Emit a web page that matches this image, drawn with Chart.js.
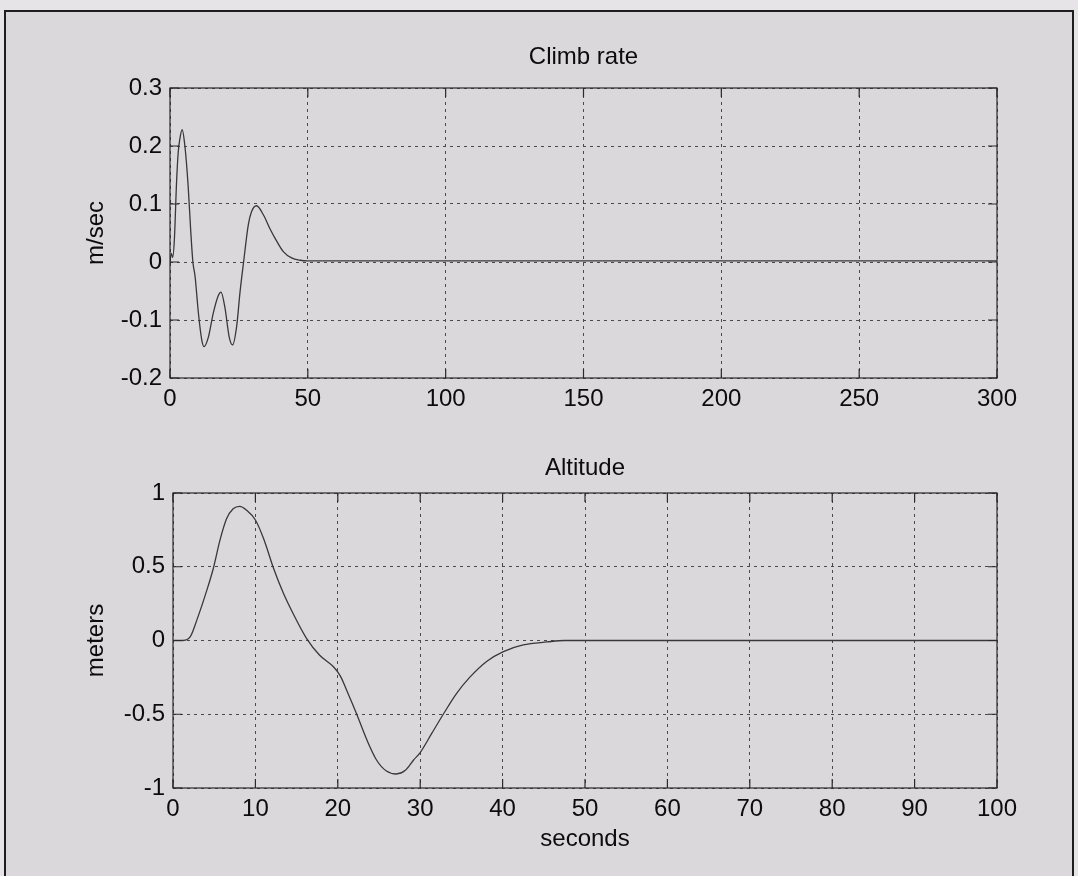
<!DOCTYPE html>
<html>
<head>
<meta charset="utf-8">
<script src="https://cdn.jsdelivr.net/npm/chart.js@4/dist/chart.umd.min.js"></script>
<style>
    body { margin: 0; background: #e6e4e6; width: 1078px; height: 876px; overflow: hidden; position: relative; }
    #frame { position: absolute; left: 4px; top: 10px; width: 1066px; height: 866px; border: 2px solid #1e1e1e; border-bottom: none; background: #dad8db; }
    canvas { position: absolute; left: 0; }
    #climbChart { top: 0; }
    #altChart { top: 430px; }
</style>
</head>
<body>
<div id="frame"></div>
<canvas id="climbChart" width="1078" height="430"></canvas>
<canvas id="altChart" width="1078" height="446"></canvas>
<script>
// Climb rate (m/sec) vs time (s)
const climbTime = [0, 0.5, 1.0, 1.6, 2.4, 3.0, 3.5, 4.4, 5.4, 6.6, 7.5, 8.3, 9.1, 10.3, 11.5, 12.3, 13.9, 15.7, 17.5, 18.5, 19.9, 21.5, 22.7, 24.2, 25.4, 26.7, 28.4, 29.6, 31.4, 33.9, 36.3, 38.7, 41.1, 44.1, 47.2, 50, 100, 150, 200, 250, 300];
const climbRate = [0, 0.015, 0.008, 0.04, 0.14, 0.19, 0.21, 0.228, 0.2, 0.13, 0.055, 0, -0.025, -0.088, -0.134, -0.146, -0.13, -0.088, -0.058, -0.052, -0.078, -0.13, -0.143, -0.11, -0.052, 0, 0.064, 0.087, 0.097, 0.081, 0.057, 0.036, 0.018, 0.007, 0.003, 0.002, 0.002, 0.002, 0.002, 0.002, 0.002];

// Altitude (meters) vs time (s)
const altTime = [0, 1.2, 2.1, 2.9, 4.1, 4.9, 5.7, 6.5, 7.3, 8.1, 8.9, 10.0, 11.0, 12.2, 13.4, 14.6, 16.2, 17.8, 19.5, 20.3, 21.1, 22.3, 23.5, 24.7, 25.9, 27.1, 28.2, 29.2, 30.0, 31.4, 32.8, 34.4, 36.0, 38.1, 40.1, 42.5, 45.4, 47.5, 50, 60, 70, 80, 90, 100];
const altitude = [0, 0, 0.026, 0.14, 0.34, 0.49, 0.68, 0.825, 0.893, 0.91, 0.885, 0.817, 0.69, 0.49, 0.32, 0.18, 0.015, -0.1, -0.18, -0.24, -0.34, -0.5, -0.67, -0.81, -0.885, -0.905, -0.88, -0.81, -0.76, -0.63, -0.5, -0.36, -0.25, -0.14, -0.075, -0.03, -0.01, 0, 0, 0, 0, 0, 0, 0];

// tick values
const climbXTicks = [0, 50, 100, 150, 200, 250, 300];
const climbYTicks = [-0.2, -0.1, 0, 0.1, 0.2, 0.3];
const altXTicks = [0, 10, 20, 30, 40, 50, 60, 70, 80, 90, 100];
const altYTicks = [-1, -0.5, 0, 0.5, 1];

const FONT = 'Liberation Sans, Arial, sans-serif';
const INK = '#0c0c0c';
const LINE = '#383838';
const GRID = '#4a4a4a';

// MATLAB style box with inward ticks
const matlabAxes = {
    id: 'matlabAxes',
    afterDatasetsDraw(chart) {
        const { ctx, chartArea: a, scales: { x, y } } = chart;
        const len = 9;
        ctx.save();
        ctx.strokeStyle = '#2a2a2a';
        ctx.lineWidth = 1.2;
        ctx.setLineDash([]);
        ctx.strokeRect(a.left, a.top, a.right - a.left, a.bottom - a.top);
        ctx.beginPath();
        x.ticks.forEach(t => {
            const px = x.getPixelForValue(t.value);
            ctx.moveTo(px, a.bottom); ctx.lineTo(px, a.bottom - len);
            ctx.moveTo(px, a.top); ctx.lineTo(px, a.top + len);
        });
        y.ticks.forEach(t => {
            const py = y.getPixelForValue(t.value);
            ctx.moveTo(a.left, py); ctx.lineTo(a.left + len, py);
            ctx.moveTo(a.right, py); ctx.lineTo(a.right - len, py);
        });
        ctx.stroke();
        ctx.restore();
    }
};

const fmt = v => String(Math.round(v * 100) / 100);

function makeChart(canvasId, cfg) {
    const points = cfg.xs.map((x, i) => ({ x: x, y: cfg.ys[i] }));
    const xMin = cfg.xTicks[0];
    const xMax = cfg.xTicks[cfg.xTicks.length - 1];
    return new Chart(document.getElementById(canvasId), {
        type: 'line',
        data: {
            datasets: [{
                data: points,
                borderColor: LINE,
                borderWidth: 1.3,
                pointRadius: 0,
                cubicInterpolationMode: 'monotone',
                fill: false
            }]
        },
        options: {
            responsive: false,
            animation: false,
            devicePixelRatio: 1,
            layout: { padding: cfg.padding },
            plugins: {
                legend: { display: false },
                tooltip: { enabled: false }
            },
            scales: {
                x: {
                    type: 'linear',
                    min: xMin,
                    max: xMax,
                    afterBuildTicks: s => { s.ticks = cfg.xTicks.map(v => ({ value: v })); },
                    afterFit: s => { s.height = cfg.xHeight; },
                    grid: { color: GRID, lineWidth: 1, drawTicks: false },
                    border: { display: false, dash: [3, 4] },
                    ticks: { color: INK, padding: 7, maxRotation: 0, callback: fmt, font: { family: FONT, size: 24 } },
                    title: {
                        display: !!cfg.xTitle,
                        text: cfg.xTitle || '',
                        color: INK,
                        font: { family: FONT, size: 24, lineHeight: 1.2 },
                        padding: { top: 0, bottom: 2 }
                    }
                },
                // top axis only carries the plot title, centred over the axes box
                top: {
                    type: 'linear',
                    position: 'top',
                    min: xMin,
                    max: xMax,
                    afterFit: s => { s.height = cfg.topHeight; },
                    grid: { display: false, drawTicks: false },
                    border: { display: false },
                    ticks: { display: false },
                    title: {
                        display: true,
                        text: cfg.title,
                        color: INK,
                        font: { family: FONT, size: 24, lineHeight: 1.2 },
                        padding: { top: cfg.titleTop, bottom: 0 }
                    }
                },
                y: {
                    min: cfg.yTicks[0],
                    max: cfg.yTicks[cfg.yTicks.length - 1],
                    afterBuildTicks: s => { s.ticks = cfg.yTicks.map(v => ({ value: v })); },
                    afterFit: s => { s.width = cfg.yWidth; },
                    grid: { color: GRID, lineWidth: 1, drawTicks: false },
                    border: { display: false, dash: [3, 4] },
                    ticks: { color: INK, padding: 8, callback: fmt, font: { family: FONT, size: 24 } },
                    title: {
                        display: true,
                        text: cfg.yTitle,
                        color: INK,
                        font: { family: FONT, size: 24, lineHeight: 1.2 },
                        padding: { top: 12, bottom: 0 }
                    }
                }
            }
        },
        plugins: [matlabAxes]
    });
}

makeChart('climbChart', {
    xs: climbTime, ys: climbRate,
    xTicks: climbXTicks, yTicks: climbYTicks,
    title: 'Climb rate', yTitle: 'm/sec',
    padding: { left: 70, right: 81, top: 20, bottom: 10 },
    topHeight: 68, titleTop: 22.6,
    yWidth: 100, xHeight: 42
});

makeChart('altChart', {
    xs: altTime, ys: altitude,
    xTicks: altXTicks, yTicks: altYTicks,
    title: 'Altitude', yTitle: 'meters', xTitle: 'seconds',
    padding: { left: 70, right: 81, top: 10, bottom: 20 },
    topHeight: 53, titleTop: 14,
    yWidth: 103, xHeight: 68
});
</script>
</body>
</html>
